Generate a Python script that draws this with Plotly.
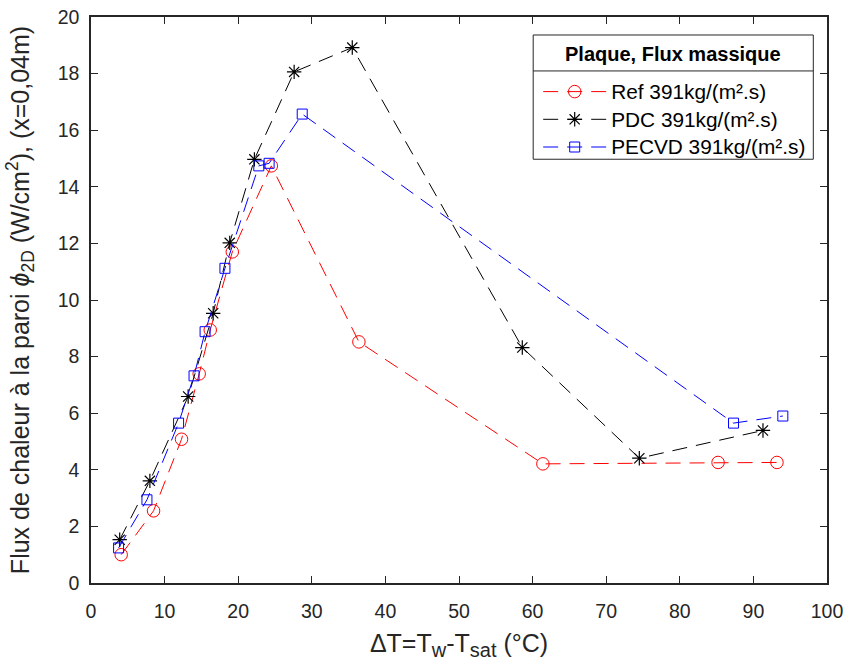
import plotly.graph_objects as go

ref_x = [4.1, 8.5, 12.3, 14.7, 16.2, 19.2, 24.5, 36.4, 61.4, 85.2, 93.2]
ref_y = [1.0, 2.55, 5.08, 7.39, 8.94, 11.7, 14.74, 8.52, 4.21, 4.26, 4.26]

pdc_x = [3.9, 8.0, 13.2, 16.6, 18.85, 22.2, 27.6, 35.5, 58.6, 74.5, 91.3]
pdc_y = [1.53, 3.61, 6.59, 9.53, 12.02, 14.97, 18.06, 18.92, 8.32, 4.41, 5.39]

pecvd_x = [3.75, 7.6, 11.9, 14.0, 15.5, 18.2, 22.8, 24.2, 28.7, 87.3, 94.0]
pecvd_y = [1.24, 2.94, 5.65, 7.32, 8.88, 11.12, 14.74, 14.83, 16.57, 5.65, 5.9]

names = ["Ref 391kg/(m².s)", "PDC 391kg/(m².s)", "PECVD 391kg/(m².s)"]
legend_title = "Plaque, Flux massique"

FONT = "Liberation Sans, Arial, sans-serif"
AX = "#262626"
DASH = "15px,9px"


def big(s):
    return "<span style='font-size:20.8px'>" + s + "</span>"


fig = go.Figure()
fig.add_trace(go.Scatter(x=ref_x, y=ref_y, name=big(names[0]), mode="lines+markers",
                         line=dict(color="#ff0000", width=1, dash=DASH),
                         marker=dict(symbol="circle-open", size=12.5, color="#ff0000", line=dict(width=1))))
fig.add_trace(go.Scatter(x=pdc_x, y=pdc_y, name=big(names[1]), mode="lines+markers",
                         line=dict(color="#000000", width=1, dash=DASH),
                         marker=dict(symbol="asterisk-open", size=12, color="#000000", line=dict(width=1.2))))
fig.add_trace(go.Scatter(x=pecvd_x, y=pecvd_y, name=big(names[2]), mode="lines+markers",
                         line=dict(color="#0000ff", width=1, dash=DASH),
                         marker=dict(symbol="square-open", size=10, color="#0000ff", line=dict(width=1))))

axis_common = dict(showline=True, linecolor=AX, linewidth=1.5, mirror="ticks",
                   ticks="inside", ticklen=7, tickcolor=AX, tickwidth=1.2,
                   showgrid=False, zeroline=False,
                   tickfont=dict(family=FONT, size=19.5, color=AX))

xtitle = ("ΔT=T<sub><span style='font-size:20px'>w</span></sub>-T"
          "<sub><span style='font-size:20px'>sat</span></sub> (°C)")
ytitle = "Flux de chaleur à la paroi <i>ϕ</i><sub>2D</sub> (W/cm<sup>2</sup>), (x=0,04m)\u00a0"

fig.update_xaxes(range=[0, 100], dtick=10, ticklabelstandoff=10, **axis_common,
                 title=dict(text=xtitle, standoff=13,
                            font=dict(family=FONT, size=25, color=AX)))
fig.update_yaxes(range=[0, 20], dtick=2, ticklabelstandoff=6, **axis_common,
                 title=dict(text=ytitle, standoff=21, font=dict(family=FONT, size=25, color=AX)))

fig.update_layout(
    width=853, height=666,
    margin=dict(l=90.5, r=26, t=17, b=82.7, autoexpand=False),
    plot_bgcolor="white", paper_bgcolor="white",
    font=dict(family=FONT, color=AX),
    legend=dict(x=0.6076, y=0.9015, xanchor="left", yanchor="top",
                bgcolor="rgba(0,0,0,0)", borderwidth=0,
                font=dict(family=FONT, size=19, color="#000000"),
                itemwidth=63),
)

# legend frame, title and separator
fig.add_shape(type="rect", xref="paper", yref="paper", x0=0.6008, x1=0.9814, y0=0.7487, y1=0.9682,
              line=dict(color=AX, width=1), fillcolor="white", layer="below")
fig.add_shape(type="line", xref="paper", yref="paper", x0=0.6008, x1=0.9814, y0=0.9047, y1=0.9047,
              line=dict(color=AX, width=1))
fig.add_annotation(text="<b>" + legend_title + "</b>", xref="paper", yref="paper", x=0.791, y=0.9347,
                   xanchor="center", yanchor="middle", showarrow=False,
                   font=dict(family=FONT, size=20, color="#000000"))

fig.write_html("out.html", config={"displayModeBar": False},
               post_script="document.body.style.margin='0';")
